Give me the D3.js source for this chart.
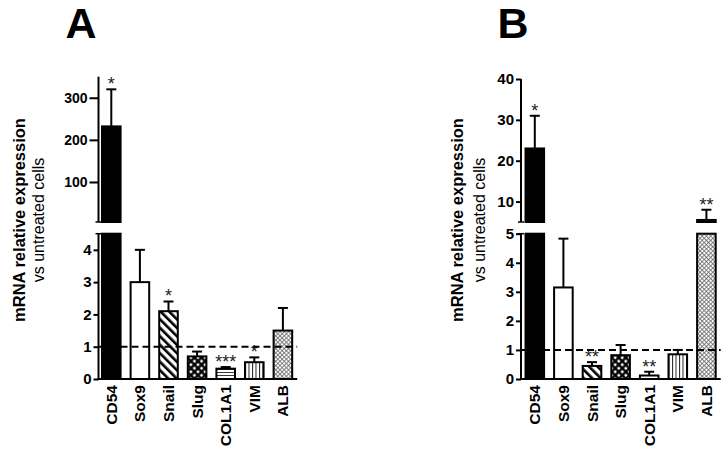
<!DOCTYPE html>
<html>
<head>
<meta charset="utf-8">
<script src="https://cdn.jsdelivr.net/npm/d3@7"></script>
<style>
  html, body { margin: 0; padding: 0; background: #fff; }
  svg { display: block; font-family: "Liberation Sans", Arial, sans-serif; }
</style>
</head>
<body>
<svg id="chart" width="728" height="451"></svg>
<script>
// ---------------- data ----------------
const categories = ["CD54", "Sox9", "Snail", "Slug", "COL1A1", "VIM", "ALB"];
const patternsByCategory = ["solid", "white", "diag", "quilt", "hlines", "vlines", "xhatch"];

const meansA = [232, 3.0, 2.1, 0.7, 0.32, 0.52, 1.5];
const errorsA = [88, 1.0, 0.3, 0.15, 0.05, 0.15, 0.7];
const starsA = ["*", "", "*", "", "***", "*", ""];
const lowerTicksA = [0, 1, 2, 3, 4];
const upperTicksA = [100, 200, 300];
const lowerDomainA = [0, 4.5];
const upperDomainA = [5, 350];

const meansB = [23, 3.15, 0.45, 0.82, 0.12, 0.85, 5.5];
const errorsB = [8, 1.68, 0.13, 0.35, 0.13, 0.15, 2.5];
const starsB = ["*", "", "**", "", "**", "", "**"];
const lowerTicksB = [0, 1, 2, 3, 4, 5];
const upperTicksB = [10, 20, 30, 40];
const lowerDomainB = [0, 5];
const upperDomainB = [5, 40];

const referenceLine = 1;
const yTitle = "mRNA relative expression";
const ySubtitle = "vs untreated cells";

// ---------------- drawing ----------------
const svg = d3.select("#chart");
svg.append("rect").attr("width", 728).attr("height", 451).attr("fill", "#fff");

const defs = svg.append("defs");
function makePatterns(prefix) {
  let p = defs.append("pattern").attr("id", prefix + "diag").attr("patternUnits", "userSpaceOnUse")
    .attr("width", 6).attr("height", 6).attr("patternTransform", "rotate(-45)");
  p.append("rect").attr("width", 6).attr("height", 6).attr("fill", "#fff");
  p.append("rect").attr("x", 0).attr("width", 2.6).attr("height", 6).attr("fill", "#000");
  p = defs.append("pattern").attr("id", prefix + "quilt").attr("patternUnits", "userSpaceOnUse")
    .attr("width", 5).attr("height", 5).attr("patternTransform", "rotate(45)");
  p.append("rect").attr("width", 5).attr("height", 5).attr("fill", "#000");
  p.append("rect").attr("x", 1.6).attr("y", 1.6).attr("width", 2.6).attr("height", 2.6).attr("fill", "#fff");
  p = defs.append("pattern").attr("id", prefix + "hlines").attr("patternUnits", "userSpaceOnUse")
    .attr("width", 4).attr("height", 3);
  p.append("rect").attr("width", 4).attr("height", 3).attr("fill", "#fff");
  p.append("rect").attr("y", 0).attr("width", 4).attr("height", 0.9).attr("fill", "#222");
  p = defs.append("pattern").attr("id", prefix + "vlines").attr("patternUnits", "userSpaceOnUse")
    .attr("width", 3.5).attr("height", 4);
  p.append("rect").attr("width", 3.5).attr("height", 4).attr("fill", "#fff");
  p.append("rect").attr("x", 0).attr("width", 1).attr("height", 4).attr("fill", "#222");
  p = defs.append("pattern").attr("id", prefix + "xhatch").attr("patternUnits", "userSpaceOnUse")
    .attr("width", 3).attr("height", 3).attr("patternTransform", "rotate(45)");
  p.append("rect").attr("width", 3).attr("height", 3).attr("fill", "#fff");
  p.append("rect").attr("width", 0.8).attr("height", 3).attr("fill", "#666");
  p.append("rect").attr("width", 3).attr("height", 0.8).attr("fill", "#666");
}
makePatterns("p-");

function fillFor(kind) {
  if (kind === "solid") return "#000";
  if (kind === "white") return "#fff";
  return "url(#p-" + kind + ")";
}

function drawPanel(cfg) {
  const g = svg.append("g");
  const axisX = cfg.axisX;
  const step = 28.6;
  const x = d3.scaleBand().domain(categories)
    .range([axisX - 1.5 + cfg.barShift, axisX - 1.5 + cfg.barShift + step * categories.length])
    .paddingInner(0.35).paddingOuter(0.175);
  const bw = x.bandwidth();
  const xEnd = x(categories[categories.length - 1]) + bw + 5;

  const yLow = d3.scaleLinear().domain(cfg.lowerDomain).range([379, 233.7]);
  const yUp = d3.scaleLinear().domain(cfg.upperDomain).range([222, cfg.upperTop]);
  const segments = [
    { y: yLow, d: cfg.lowerDomain, ticks: cfg.lowerTicks, tickSize: 5, fs: 15, base: true },
    { y: yUp, d: cfg.upperDomain, ticks: cfg.upperTicks, tickSize: cfg.upperTickSize, fs: cfg.upperFs, base: false }
  ];

  const data = categories.map((c, i) => ({
    c, m: cfg.means[i], e: cfg.errors[i], s: cfg.stars[i], pat: patternsByCategory[i]
  }));

  segments.forEach(seg => {
    const [d0, d1] = seg.d;
    data.forEach(d => {
      if (d.m <= d0) return;
      const top = Math.min(d.m, d1);
      const bottom = seg.base ? 0 : d0;
      g.append("rect")
        .attr("x", x(d.c)).attr("width", bw)
        .attr("y", seg.y(top)).attr("height", seg.y(bottom) - seg.y(top))
        .attr("fill", fillFor(d.pat))
        .attr("stroke", "#000").attr("stroke-width", 2);
    });
    data.forEach(d => {
      const hi = d.m + d.e;
      if (hi <= d0 || d.m >= d1) return;
      const cx = x(d.c) + bw / 2;
      const y0 = seg.y(Math.max(d.m, d0));
      const y1 = seg.y(Math.min(hi, d1));
      g.append("line").attr("x1", cx).attr("x2", cx).attr("y1", y0).attr("y2", y1)
        .attr("stroke", "#000").attr("stroke-width", 2);
      if (hi <= d1) {
        g.append("line").attr("x1", cx - 5).attr("x2", cx + 5).attr("y1", y1).attr("y2", y1)
          .attr("stroke", "#000").attr("stroke-width", 2);
      }
    });
    data.forEach(d => {
      const hi = d.m + d.e;
      if (!d.s || hi < d0 || hi > d1) return;
      g.append("text").attr("x", x(d.c) + bw / 2).attr("y", seg.y(hi) - 10)
        .attr("dy", "0.6em")
        .attr("text-anchor", "middle").attr("font-size", 18).attr("fill", "#222")
        .text(d.s);
    });
    const ax = g.append("g").attr("transform", `translate(${axisX},0)`)
      .call(d3.axisLeft(seg.y).tickValues(seg.ticks).tickFormat(d3.format("d"))
        .tickSize(seg.tickSize).tickSizeOuter(0).tickPadding(2));
    ax.select(".domain").remove();
    ax.selectAll(".tick line").attr("stroke", "#000").attr("stroke-width", 2);
    ax.selectAll(".tick text").attr("font-size", seg.fs).attr("font-weight", "bold")
      .attr("font-family", '"Liberation Sans", Arial, sans-serif').attr("fill", "#000");
    const r = seg.y.range();
    g.append("line").attr("x1", axisX).attr("x2", axisX).attr("y1", r[0]).attr("y2", r[1])
      .attr("stroke", "#000").attr("stroke-width", 2);
    const capY = seg.base ? r[1] : r[0];
    g.append("line").attr("x1", axisX - 3).attr("x2", axisX + 3).attr("y1", capY).attr("y2", capY)
      .attr("stroke", "#000").attr("stroke-width", 1.5);
  });

  g.append("line").attr("x1", axisX).attr("x2", xEnd)
    .attr("y1", yLow(referenceLine)).attr("y2", yLow(referenceLine))
    .attr("stroke", "#000").attr("stroke-width", 2).attr("stroke-dasharray", "7,4");

  const xa = g.append("g").attr("transform", "translate(0,379)")
    .call(d3.axisBottom(x).tickSize(0).tickSizeOuter(0));
  xa.select(".domain").remove();
  g.append("line").attr("x1", axisX - 1).attr("x2", xEnd).attr("y1", 379).attr("y2", 379)
    .attr("stroke", "#000").attr("stroke-width", 2);
  xa.selectAll(".tick text")
    .attr("transform", "rotate(-90)")
    .attr("x", -6).attr("y", 0).attr("dy", "0.36em")
    .attr("text-anchor", "end")
    .attr("font-size", 15.5).attr("font-weight", "bold")
    .attr("font-family", '"Liberation Sans", Arial, sans-serif').attr("fill", "#000");

  g.append("text").attr("transform", `translate(${cfg.titleX},220) rotate(-90)`)
    .attr("text-anchor", "middle").attr("dy", "0.36em")
    .attr("font-size", 16.5).attr("font-weight", "bold").text(yTitle);
  g.append("text").attr("transform", `translate(${cfg.subX},220) rotate(-90)`)
    .attr("text-anchor", "middle").attr("dy", "0.36em")
    .attr("font-size", 16).text(ySubtitle);

  g.append("text").attr("x", cfg.letterX).attr("y", 38).attr("text-anchor", "middle")
    .attr("font-size", 43).attr("font-weight", "bold").text(cfg.letter);
}

drawPanel({
  letter: "A", letterX: 81, axisX: 98.5, barShift: 0, titleX: 19, subX: 38.5,
  means: meansA, errors: errorsA, stars: starsA,
  lowerDomain: lowerDomainA, upperDomain: upperDomainA,
  lowerTicks: lowerTicksA, upperTicks: upperTicksA, upperTop: 76.7, upperTickSize: 9, upperFs: 14
});
drawPanel({
  letter: "B", letterX: 513, axisX: 521, barShift: 1, titleX: 457, subX: 479.5,
  means: meansB, errors: errorsB, stars: starsB,
  lowerDomain: lowerDomainB, upperDomain: upperDomainB,
  lowerTicks: lowerTicksB, upperTicks: upperTicksB, upperTop: 79, upperTickSize: 5, upperFs: 15
});
</script>
</body>
</html>
